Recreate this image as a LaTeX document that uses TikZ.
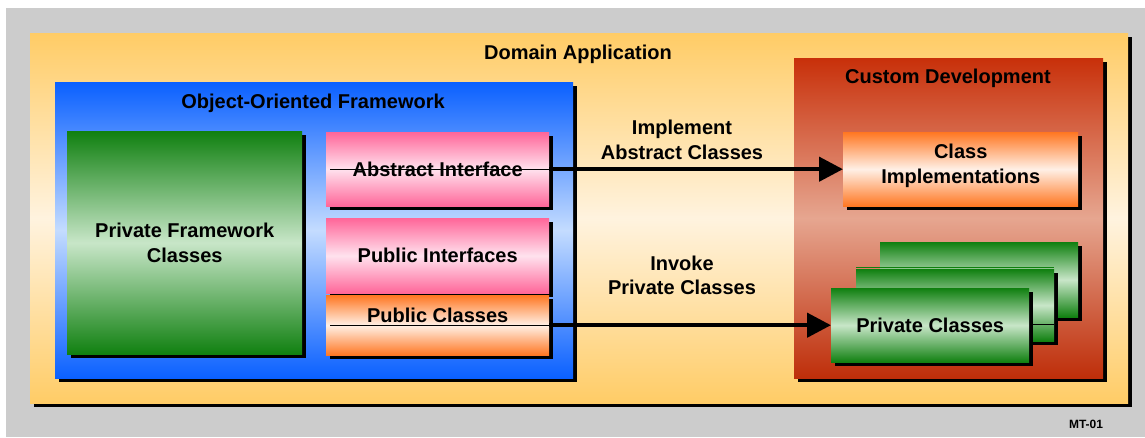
\documentclass[tikz,border=0pt]{standalone}
\usepackage{fontspec}
\setmainfont{Liberation Sans}
\usetikzlibrary{arrows.meta,calc}

\definecolor{bggray}{HTML}{CCCCCC}
\definecolor{appyellow}{HTML}{FFCC66}
\definecolor{appcream}{HTML}{FFF3DF}
\definecolor{fwblue}{HTML}{0A60FF}
\definecolor{fwlight}{HTML}{C4DCFF}
\definecolor{pfgreen}{HTML}{108010}
\definecolor{pflight}{HTML}{C8E6C8}
\definecolor{ifpink}{HTML}{FF6699}
\definecolor{iflight}{HTML}{FFE2EE}
\definecolor{clorange}{HTML}{FF7722}
\definecolor{cllight}{HTML}{FFF0E6}
\definecolor{cdred}{HTML}{C8300A}
\definecolor{cdlight}{HTML}{E6A690}

\newcommand\lblfont{\fontsize{20}{24.5}\selectfont\bfseries}
\newcommand\tagfont{\fontsize{12}{14}\selectfont\bfseries}

\tikzset{
  box/.style={rectangle, inner sep=0pt, anchor=north west, align=center,
    preaction={fill=black, transform canvas={xshift=4pt, yshift=-4pt}}},
  sz/.style 2 args={minimum width=#1pt, minimum height=#2pt},
  yellowgrad/.style={top color=appyellow, bottom color=appyellow, middle color=appcream},
  bluegrad/.style={top color=fwblue, bottom color=fwblue, middle color=fwlight},
  greengrad/.style={top color=pfgreen, bottom color=pfgreen, middle color=pflight},
  pinkgrad/.style={top color=ifpink, bottom color=ifpink, middle color=iflight},
  orangegrad/.style={top color=clorange, bottom color=clorange, middle color=cllight},
  redgrad/.style={top color=cdred, bottom color=cdred!95!black, middle color=cdlight},
  title/.style={align=center, inner sep=0pt},
  thinline/.style={draw=black, line width=0.8pt},
  flow/.style={draw=black, line width=4.5pt, -{Triangle[length=24pt, width=24pt]}},
}

\begin{document}
\begin{tikzpicture}[x=1pt, y=-1pt, font=\lblfont]
\useasboundingbox (0,0) rectangle (1145,437);
\fill[bggray] (6,8) rectangle (1145,437);

% outer application
\node[box, sz={1098}{370}, yellowgrad] (app) at (30,33) {};
\node[title] (apptitle) at (578,54) {Domain Application};

% framework
\node[box, sz={518}{296}, bluegrad] (fw) at (55,82) {};
\node[title] (fwtitle) at (313,103) {Object-Oriented Framework};
\node[box, sz={235}{223}, greengrad] (pfc) at (67,131) {Private Framework\\Classes};
\node[box, sz={223}{74}, pinkgrad] (ai) at (326,132) {Abstract Interface};
\node[box, sz={223}{75}, pinkgrad] (pi) at (326,218) {Public Interfaces};
\node[box, sz={223}{60}, orangegrad,
      label={[yshift=10pt]center:Public Classes}] (pcl) at (326,295) {};

% custom development
\node[box, sz={309}{320}, redgrad] (cd) at (794,58) {};
\node[title] (cdtitle) at (948,78) {Custom Development};
\node[box, sz={235}{74}, orangegrad,
      label={[align=center, yshift=3.5pt]center:Class\\Implementations}] (ci) at (843,132) {};

% stack of private classes
\node[box, sz={198}{75}, greengrad] (pcback) at (880,242) {};
\node[box, sz={198}{72}, greengrad] (pcmid) at (856,269) {};
\draw[pfgreen, line width=0.7pt] ($(pcmid.north west)+(0,-1.8)$) -- ($(pcmid.north east)+(0,-1.8)$);
\draw[thinline] ($(pcmid.west)+(0,19)$) -- ($(pcmid.east)+(0,19)$);
\node[box, sz={198}{74}, greengrad] (pcf) at (831,288) {Private Classes};

% connectors
\draw[thinline] ($(ai.west)+(4,0)$) -- (ai.east);
\draw[flow] (ai.east) -- (ci.west);
\node[title] (implbl) at (682,140) {Implement\\Abstract Classes};

\draw[thinline] ($(pcl.west)+(4,0)$) -- (pcl.east);
\draw[flow] (pcl.east) -- (pcf.west);
\node[title] (invlbl) at (682,275.5) {Invoke\\Private Classes};

\node[font=\tagfont, inner sep=0pt] (tag) at (1086,424) {MT-01};
\end{tikzpicture}
\end{document}
